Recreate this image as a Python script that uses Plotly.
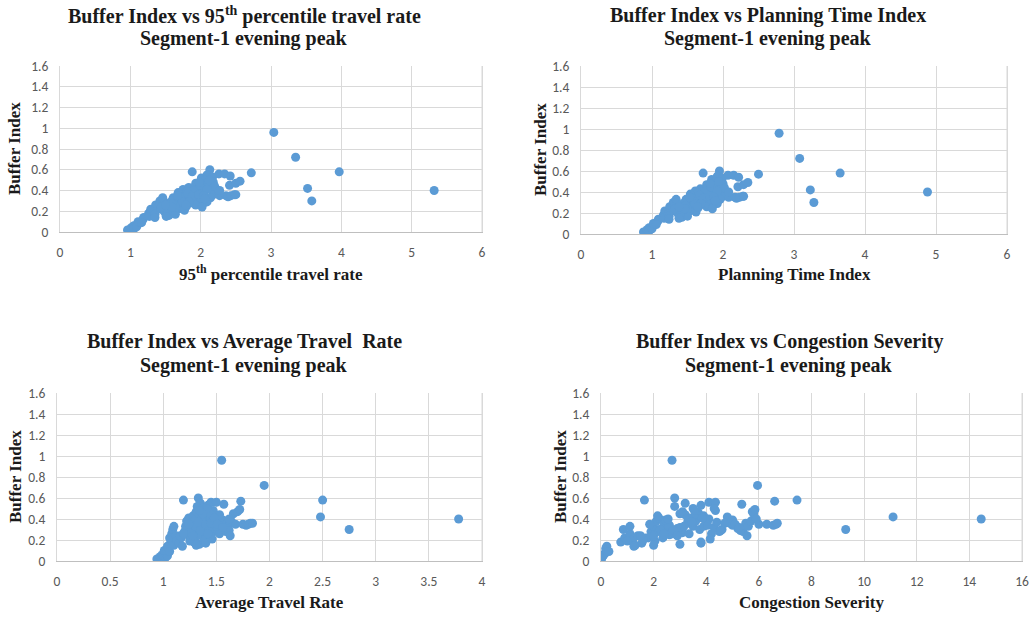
import plotly.graph_objects as go

# Segment-1 evening peak observations
buffer_index = [0.02, 0.04, 0.06, 0.03, 0.07, 0.05, 0.10, 0.12, 0.14, 0.09,
                0.18, 0.22, 0.26, 0.30, 0.33, 0.20, 0.15, 0.24, 0.19, 0.17,
                0.22, 0.14, 0.58, 0.28, 0.33, 0.38, 0.25, 0.41, 0.19, 0.31,
                0.36, 0.22, 0.43, 0.29, 0.34, 0.39, 0.26, 0.47, 0.52, 0.60,
                0.31, 0.16, 0.44, 0.55, 0.36, 0.27, 0.41, 0.50, 0.33, 0.22,
                0.46, 0.38, 0.17, 0.30, 0.53, 0.43, 0.35, 0.25, 0.40, 0.56,
                0.32, 0.48, 0.28, 0.37, 0.56, 0.30, 0.42, 0.26, 0.34, 0.96,
                0.39, 0.54, 0.31, 0.28, 0.36, 0.33, 0.29, 0.24, 0.38, 0.45,
                0.35, 0.47, 0.49, 0.57, 0.35, 0.34, 0.35, 0.36, 0.36, 0.72,
                0.42, 0.58, 0.30, 0.40, 0.20, 0.24, 0.40, 0.45, 0.38, 0.33,
                0.28, 0.18, 0.21, 0.15, 0.24, 0.32, 0.44, 0.50, 0.30, 0.27,
                0.33, 0.37, 0.29, 0.45, 0.34, 0.29, 0.36, 0.41, 0.35, 0.32,
                0.24, 0.35, 0.26, 0.40, 0.48, 0.26]

travel_rate_95th = [0.96, 1.01, 1.05, 1.05, 1.10, 1.09, 1.11, 1.18, 1.19, 1.16,
                    1.26, 1.29, 1.36, 1.42, 1.46, 1.30, 1.27, 1.39, 1.34, 1.35,
                    1.43, 1.35, 1.88, 1.54, 1.61, 1.68, 1.54, 1.75, 1.49, 1.64,
                    1.71, 1.55, 1.83, 1.65, 1.73, 1.81, 1.64, 1.93, 2.01, 2.13,
                    1.74, 1.55, 1.93, 2.09, 1.84, 1.73, 1.93, 2.06, 1.84, 1.68,
                    2.03, 1.93, 1.64, 1.83, 2.17, 2.03, 1.93, 1.80, 2.03, 2.26,
                    1.93, 2.18, 1.89, 2.04, 2.34, 1.96, 2.16, 1.93, 2.06, 3.04,
                    2.17, 2.42, 2.07, 2.04, 2.18, 2.14, 2.09, 2.02, 2.26, 2.41,
                    2.27, 2.50, 2.56, 2.72, 2.36, 2.39, 2.43, 2.48, 2.50, 3.35,
                    3.52, 3.97, 3.58, 5.32, 1.52, 1.64, 1.90, 2.09, 2.03, 2.00,
                    1.78, 1.52, 1.77, 1.51, 1.44, 1.62, 2.20, 2.12, 1.59, 1.60,
                    1.73, 1.82, 1.74, 1.99, 1.88, 1.84, 1.97, 2.09, 2.04, 2.06,
                    1.59, 1.67, 1.50, 2.27, 1.98, 1.79]

planning_time_index = [0.88, 0.93, 0.96, 0.96, 1.01, 1.00, 1.02, 1.08, 1.09, 1.06,
                       1.16, 1.18, 1.25, 1.30, 1.34, 1.19, 1.17, 1.28, 1.23, 1.24,
                       1.31, 1.24, 1.72, 1.41, 1.48, 1.54, 1.41, 1.61, 1.37, 1.50,
                       1.57, 1.42, 1.68, 1.51, 1.59, 1.66, 1.50, 1.77, 1.84, 1.95,
                       1.60, 1.42, 1.77, 1.92, 1.69, 1.59, 1.77, 1.89, 1.69, 1.54,
                       1.86, 1.77, 1.50, 1.68, 1.99, 1.86, 1.77, 1.65, 1.86, 2.07,
                       1.77, 2.00, 1.73, 1.87, 2.15, 1.80, 1.98, 1.77, 1.89, 2.79,
                       1.99, 2.22, 1.90, 1.87, 2.00, 1.96, 1.92, 1.85, 2.07, 2.21,
                       2.08, 2.29, 2.35, 2.50, 2.17, 2.19, 2.23, 2.28, 2.29, 3.08,
                       3.23, 3.65, 3.28, 4.88, 1.40, 1.50, 1.74, 1.92, 1.86, 1.83,
                       1.63, 1.40, 1.62, 1.38, 1.32, 1.49, 2.02, 1.94, 1.46, 1.47,
                       1.59, 1.67, 1.60, 1.83, 1.72, 1.69, 1.81, 1.92, 1.87, 1.89,
                       1.46, 1.53, 1.38, 2.08, 1.82, 1.64]

average_travel_rate = [0.94, 0.97, 0.99, 1.02, 1.03, 1.04, 1.01, 1.05, 1.04, 1.06,
                       1.07, 1.06, 1.08, 1.09, 1.10, 1.08, 1.10, 1.12, 1.13, 1.15,
                       1.17, 1.18, 1.19, 1.20, 1.21, 1.22, 1.23, 1.24, 1.25, 1.25,
                       1.26, 1.27, 1.28, 1.28, 1.29, 1.30, 1.30, 1.31, 1.32, 1.33,
                       1.33, 1.34, 1.34, 1.35, 1.35, 1.36, 1.37, 1.37, 1.38, 1.38,
                       1.39, 1.40, 1.40, 1.41, 1.42, 1.42, 1.43, 1.44, 1.45, 1.45,
                       1.46, 1.47, 1.48, 1.49, 1.50, 1.51, 1.52, 1.53, 1.54, 1.55,
                       1.56, 1.57, 1.58, 1.59, 1.60, 1.61, 1.62, 1.63, 1.64, 1.66,
                       1.68, 1.70, 1.72, 1.73, 1.75, 1.78, 1.80, 1.82, 1.84, 1.95,
                       2.48, 2.50, 2.75, 3.78, 1.27, 1.32, 1.36, 1.44, 1.47, 1.50,
                       1.39, 1.29, 1.46, 1.31, 1.16, 1.23, 1.53, 1.41, 1.22, 1.26,
                       1.30, 1.33, 1.35, 1.37, 1.40, 1.43, 1.45, 1.48, 1.51, 1.56,
                       1.28, 1.24, 1.19, 1.62, 1.34, 1.42]

congestion_severity = [0.02, 0.05, 0.10, 0.03, 0.15, 0.08, 0.20, 0.18, 0.22, 0.30,
                       0.75, 0.90, 1.10, 0.85, 1.10, 1.20, 1.30, 1.40, 1.00, 1.55,
                       1.70, 1.25, 1.65, 1.90, 2.00, 2.10, 1.95, 2.20, 2.05, 2.30,
                       2.40, 1.80, 2.15, 2.50, 2.60, 2.45, 2.70, 3.10, 2.80, 2.80,
                       2.90, 3.00, 3.20, 3.20, 3.30, 3.10, 3.40, 3.50, 3.50, 2.35,
                       3.70, 3.60, 3.80, 3.75, 3.80, 3.90, 4.00, 2.60, 4.10, 4.10,
                       4.30, 4.35, 4.50, 4.40, 4.35, 4.60, 4.80, 4.20, 5.00, 2.70,
                       5.00, 5.35, 5.20, 5.40, 5.50, 5.60, 5.30, 5.55, 5.70, 5.80,
                       6.00, 5.75, 5.85, 6.60, 6.30, 6.55, 6.65, 6.70, 4.90, 5.95,
                       11.10, 7.45, 9.30, 14.45, 1.60, 2.00, 2.55, 3.00, 3.30, 3.90,
                       2.20, 3.80, 4.15, 2.00, 1.50, 3.00, 3.70, 4.30, 2.25, 2.65,
                       3.15, 3.45, 2.75, 3.60, 4.05, 4.55, 4.70, 3.85, 5.10, 5.25,
                       2.90, 1.85, 2.40, 5.90, 3.55, 3.35]

panels = [
    dict(x=travel_rate_95th, xmax=6, dtick=1,
         title="Buffer Index vs 95<sup>th</sup> percentile travel rate",
         xlabel="95<sup>th</sup> percentile travel rate"),
    dict(x=planning_time_index, xmax=6, dtick=1,
         title="Buffer Index vs Planning Time Index",
         xlabel="Planning Time Index"),
    dict(x=average_travel_rate, xmax=4, dtick=0.5,
         title="Buffer Index vs Average Travel  Rate",
         xlabel="Average Travel Rate"),
    dict(x=congestion_severity, xmax=16, dtick=2,
         title="Buffer Index vs Congestion Severity",
         xlabel="Congestion Severity"),
]

W, H = 1034, 617
# plot-area boxes in pixels: left, right, top, bottom
boxes = [(60, 482, 66, 232), (581, 1007, 66, 234),
         (57, 482, 393, 561), (601, 1022, 393, 561)]
title_cx = [244, 768, 244, 789]
title_y = [(15, 38), (15, 38), (342, 365), (342, 365)]
ytitle_x = [15, 540, 15, 560]

SERIF = "Liberation Serif, Times New Roman, serif"
SANS = "Carlito, Liberation Sans, Arial, sans-serif"
GRID = "#d9d9d9"
DOT = "#5b9bd5"
TXT = "#1a1a1a"

fig = go.Figure()
annotations = []

for i, (p, (l, r, t, b)) in enumerate(zip(panels, boxes)):
    n = "" if i == 0 else str(i + 1)
    fig.add_trace(go.Scatter(
        x=p["x"], y=buffer_index, mode="markers",
        marker=dict(color=DOT, size=9, line=dict(width=0)),
        xaxis="x" + n, yaxis="y" + n, showlegend=False,
    ))
    fig.update_layout(**{
        "xaxis" + n: dict(
            domain=[l / W, r / W], anchor="y" + n, range=[0, p["xmax"]],
            dtick=p["dtick"], tick0=0, showgrid=True, gridcolor=GRID, gridwidth=1,
            zeroline=False, showline=True, linecolor="#bfbfbf", linewidth=1,
            mirror=False, ticks="", ticklabelstandoff=8, automargin=False,
            tickfont=dict(family=SANS, size=13.5, color="#595959"),
        ),
        "yaxis" + n: dict(
            domain=[1 - b / H, 1 - t / H], anchor="x" + n, range=[0, 1.6],
            dtick=0.2, tick0=0, showgrid=True, gridcolor=GRID, gridwidth=1,
            zeroline=False, showline=True, linecolor=GRID, linewidth=1,
            mirror=True, ticks="", ticklabelstandoff=8, automargin=False,
            tickfont=dict(family=SANS, size=13.5, color="#595959"),
        ),
    })
    # right edge of the plot area
    fig.add_shape(type="line", xref="x" + n + " domain", yref="y" + n + " domain",
                  x0=1, x1=1, y0=0, y1=1, line=dict(color=GRID, width=1))
    line1, line2 = title_y[i]
    annotations.append(dict(
        text="<b>" + p["title"] + "</b>", x=title_cx[i] / W, y=1 - line1 / H,
        xref="paper", yref="paper", showarrow=False, xanchor="center", yanchor="middle",
        font=dict(family=SERIF, size=20, color=TXT)))
    annotations.append(dict(
        text="<b>Segment-1 evening peak</b>", x=title_cx[i] / W, y=1 - line2 / H,
        xref="paper", yref="paper", showarrow=False, xanchor="center", yanchor="middle",
        font=dict(family=SERIF, size=20, color=TXT)))
    annotations.append(dict(
        text="<b>" + p["xlabel"] + "</b>", x=(l + r) / 2 / W, y=1 - (b + 41) / H,
        xref="paper", yref="paper", showarrow=False, xanchor="center", yanchor="middle",
        font=dict(family=SERIF, size=17, color=TXT)))
    annotations.append(dict(
        text="<b>Buffer Index</b>", x=ytitle_x[i] / W, y=1 - (t + b) / 2 / H,
        xref="paper", yref="paper", showarrow=False, textangle=-90,
        xanchor="center", yanchor="middle",
        font=dict(family=SERIF, size=17, color=TXT)))

fig.update_layout(
    width=W, height=H, margin=dict(l=0, r=0, t=0, b=0),
    paper_bgcolor="white", plot_bgcolor="white",
    annotations=annotations,
)

fig.write_html("out.html")
